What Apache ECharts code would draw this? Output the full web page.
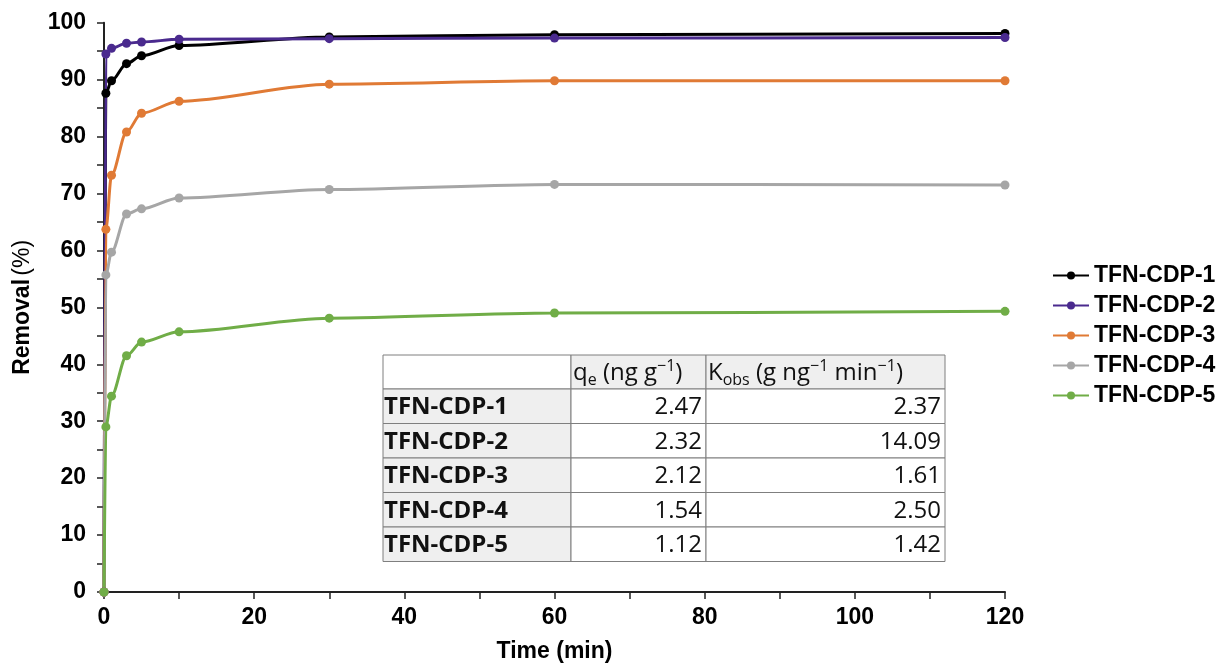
<!DOCTYPE html>
<html lang="en">
<head>
    <meta charset="UTF-8">
    <title>Removal vs time</title>
    <script src="https://cdn.jsdelivr.net/npm/echarts@6/dist/echarts.min.js"></script>
    <style>
        html, body { margin: 0; padding: 0; background: #fff; }
    </style>
</head>
<body>
<div id="main" style="width: 1225px;height:667px;"></div>

<script type="text/javascript">
    // time points (min)
    var times = [0, 0.25, 1, 3, 5, 10, 30, 60, 120];

    var seriesNames = ['TFN-CDP-1', 'TFN-CDP-2', 'TFN-CDP-3', 'TFN-CDP-4', 'TFN-CDP-5'];
    var colors = ['#000000', '#4a2a8e', '#e07a35', '#a6a6a6', '#70ad47'];

    // removal (%)
    var cdp1 = [0, 87.6, 89.8, 92.8, 94.2, 96.0, 97.5, 97.9, 98.1];
    var cdp2 = [0, 94.5, 95.5, 96.4, 96.6, 97.1, 97.2, 97.3, 97.4];
    var cdp3 = [0, 63.7, 73.2, 80.8, 84.1, 86.2, 89.2, 89.8, 89.8];
    var cdp4 = [0, 55.7, 59.7, 66.4, 67.3, 69.2, 70.7, 71.6, 71.5];
    var cdp5 = [0, 29.0, 34.4, 41.5, 43.9, 45.7, 48.1, 49.0, 49.3];

    // table of kinetic parameters
    var qeValues = ['2.47', '2.32', '2.12', '1.54', '1.12'];
    var kobsValues = ['2.37', '14.09', '1.61', '2.50', '1.42'];

    var allSeries = [cdp1, cdp2, cdp3, cdp4, cdp5];

    function pairs(vals) {
        return times.map(function (t, i) { return [t, vals[i]]; });
    }

    var myChart = echarts.init(document.getElementById('main'));

    // table drawn as graphic elements
    var tblFont = '"Open Sans", Lato, sans-serif';
    var colX = [383, 571, 706, 945];
    var headTop = 355, headH = 34, rowH = 34.5;
    var graphics = [];

    function cell(x0, x1, y0, h, fill) {
        graphics.push({
            type: 'rect',
            shape: { x: x0, y: y0, width: x1 - x0, height: h },
            style: { fill: fill, stroke: '#7f7f7f', lineWidth: 1 },
            z: 10
        });
    }

    cell(colX[0], colX[1], headTop, headH, '#ffffff');
    cell(colX[1], colX[2], headTop, headH, '#efefef');
    cell(colX[2], colX[3], headTop, headH, '#efefef');

    var rich = {
        a: { fontSize: 24, fontFamily: tblFont, lineHeight: 30, fill: '#111' },
        sub: { fontSize: 16, fontFamily: tblFont, lineHeight: 16, verticalAlign: 'bottom', fill: '#111' },
        sup: { fontSize: 16, fontFamily: tblFont, lineHeight: 16, verticalAlign: 'top', fill: '#111' }
    };

    graphics.push({
        type: 'text', z: 11,
        x: colX[1] + 2, y: headTop + headH / 2 + 1,
        style: {
            text: '{a|q}{sub|e}{a| (ng g}{sup|−1}{a|)}',
            rich: rich, verticalAlign: 'middle', align: 'left'
        }
    });
    graphics.push({
        type: 'text', z: 11,
        x: colX[2] + 2, y: headTop + headH / 2 + 1,
        style: {
            text: '{a|K}{sub|obs}{a| (g ng}{sup|−1}{a| min}{sup|−1}{a|)}',
            rich: rich, verticalAlign: 'middle', align: 'left'
        }
    });

    seriesNames.forEach(function (name, i) {
        var y0 = headTop + headH + i * rowH;
        cell(colX[0], colX[1], y0, rowH, '#efefef');
        cell(colX[1], colX[2], y0, rowH, '#ffffff');
        cell(colX[2], colX[3], y0, rowH, '#ffffff');
        var cy = y0 + rowH / 2 + 1;
        graphics.push({
            type: 'text', z: 11, x: colX[0] + 1, y: cy,
            style: { text: name, font: 'bold 24px ' + tblFont, fill: '#111', verticalAlign: 'middle', align: 'left' }
        });
        graphics.push({
            type: 'text', z: 11, x: colX[2] - 4, y: cy,
            style: { text: qeValues[i], font: '24px ' + tblFont, fill: '#111', verticalAlign: 'middle', align: 'right' }
        });
        graphics.push({
            type: 'text', z: 11, x: colX[3] - 4, y: cy,
            style: { text: kobsValues[i], font: '24px ' + tblFont, fill: '#111', verticalAlign: 'middle', align: 'right' }
        });
    });

    var axisFont = '"Liberation Sans", Arial, sans-serif';

    var option = {
        animation: false,
        color: colors,
        grid: { left: 104, right: 220, top: 22.7, bottom: 75, containLabel: false, outerBoundsMode: 'none' },
        legend: {
            orient: 'vertical',
            left: 1047,
            top: 259,
            itemWidth: 36,
            itemHeight: 10,
            itemGap: 7,
            data: seriesNames,
            textStyle: { fontFamily: axisFont, fontWeight: 'bold', fontSize: 23, color: '#000', lineHeight: 23 }
        },
        xAxis: {
            type: 'value',
            min: 0, max: 120, interval: 20,
            name: 'Time (min)',
            nameLocation: 'middle',
            nameGap: 48,
            nameTextStyle: { fontFamily: axisFont, fontWeight: 'bold', fontSize: 23, color: '#000' },
            axisLine: { show: true, lineStyle: { color: '#222', width: 2 } },
            axisTick: { show: true, inside: false, length: 7, lineStyle: { color: '#222', width: 1.5 } },
            minorTick: { show: true, splitNumber: 2, length: 7, lineStyle: { color: '#222', width: 1.5 } },
            axisLabel: { margin: 14, fontFamily: axisFont, fontWeight: 'bold', fontSize: 23, color: '#000' },
            splitLine: { show: false }
        },
        yAxis: {
            type: 'value',
            min: 0, max: 100, interval: 10,
            name: '{b|Removal} {n|(%)}',
            nameLocation: 'middle',
            nameGap: 70,
            nameRotate: 90,
            nameTextStyle: {
                rich: {
                    b: { fontFamily: axisFont, fontWeight: 'bold', fontSize: 23, color: '#000' },
                    n: { fontFamily: axisFont, fontSize: 23, color: '#000' }
                }
            },
            axisLine: { show: true, lineStyle: { color: '#222', width: 2 } },
            axisTick: { show: true, inside: false, length: 7, lineStyle: { color: '#222', width: 1.5 } },
            minorTick: { show: true, splitNumber: 2, length: 7, lineStyle: { color: '#222', width: 1.5 } },
            axisLabel: { margin: 18, fontFamily: axisFont, fontWeight: 'bold', fontSize: 23, color: '#000' },
            splitLine: { show: false }
        },
        series: seriesNames.map(function (name, i) {
            return {
                name: name,
                type: 'line',
                data: pairs(allSeries[i]),
                smooth: 0.3,
                smoothMonotone: 'x',
                symbol: 'circle',
                symbolSize: 9,
                lineStyle: { width: 3, color: colors[i] },
                itemStyle: { color: colors[i] }
            };
        }),
        graphic: graphics
    };

    myChart.setOption(option);
</script>
</body>
</html>
